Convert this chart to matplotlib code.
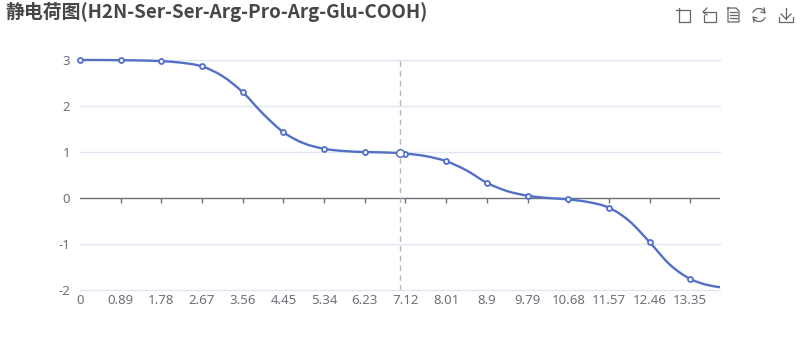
import matplotlib
matplotlib.use("Agg")
import matplotlib.pyplot as plt
import numpy as np
from matplotlib.lines import Line2D
from matplotlib.patches import Arc, PathPatch
from matplotlib.path import Path

plt.rcParams['font.family'] = ['Noto Sans', 'Noto Sans CJK SC', 'DejaVu Sans']

title = "静电荷图(H2N-Ser-Ser-Arg-Pro-Arg-Glu-COOH)"

# ph values at the labelled ticks, and charge
tick_ph = [0, 0.89, 1.78, 2.67, 3.56, 4.45, 5.34, 6.23, 7.12, 8.01, 8.9, 9.79, 10.68, 11.57, 12.46, 13.35]
tick_charge = [3.0, 2.995, 2.975, 2.86, 2.3, 1.43, 1.07, 1.0, 0.965, 0.8, 0.33, 0.05, -0.03, -0.21, -0.96, -1.76]

# curve read at the ticks and half way between them
curve_ph = [0, 0.445, 0.89, 1.335, 1.78, 2.225, 2.67, 3.115, 3.56, 4.005, 4.45, 4.895, 5.34, 5.785,
            6.23, 6.675, 7.12, 7.565, 8.01, 8.455, 8.9, 9.345, 9.79, 10.235, 10.68, 11.125, 11.57,
            12.015, 12.46, 12.905, 13.35, 13.7, 14.0]
curve_charge = [3.0, 3.0, 2.995, 2.99, 2.975, 2.94, 2.86, 2.65, 2.3, 1.83, 1.43, 1.19, 1.07, 1.02,
                1.0, 0.99, 0.965, 0.91, 0.8, 0.6, 0.33, 0.15, 0.05, 0.0, -0.03, -0.09, -0.21,
                -0.5, -0.96, -1.45, -1.76, -1.885, -1.94]

hover_ph = 7.01
hover_charge = 0.97

y_ticks = [-2, -1, 0, 1, 2, 3]
y_labels = ["-2", "-1", "0", "1", "2", "3"]

blue = "#5470c6"
grid = "#e0e6f1"
axis = "#6e7079"

fig = plt.figure(figsize=(8, 3.6), dpi=100)
ax = fig.add_axes([80 / 800, 1 - 290 / 360, 640 / 800, 230 / 360])
ax.set_xlim(0, 14)
ax.set_ylim(-2, 3)
ax.set_yticks(y_ticks)
ax.set_yticklabels(y_labels)
ax.set_xticks(tick_ph)
ax.set_xticklabels([str(v) for v in tick_ph])
ax.tick_params(axis='y', length=0, labelsize=9.5, labelcolor=axis, pad=7)
ax.tick_params(axis='x', length=0, labelsize=9.5, labelcolor=axis, pad=3)
for s in ax.spines.values():
    s.set_visible(False)
for y in y_ticks:
    if y != 0:
        ax.axhline(y, color=grid, lw=1, zorder=1, clip_on=False)

# x axis sits on zero, labels stay at the bottom
ax.axhline(0, color=axis, lw=1, zorder=2)
for v in tick_ph[1:]:
    ax.plot([v, v], [0, -0.11], color=axis, lw=1, zorder=2, solid_capstyle='butt')

ax.axvline(hover_ph, color="#b4b8c6", lw=1, ls=(0, (4, 3)), zorder=2)

# smooth line through the read points, as bezier segments
xs = np.array(curve_ph)
ys = np.array(curve_charge)
slope = np.gradient(ys, xs)
verts = [(xs[0], ys[0])]
codes = [Path.MOVETO]
for i in range(len(xs) - 1):
    d = (xs[i + 1] - xs[i]) / 3
    verts += [(xs[i] + d, ys[i] + slope[i] * d), (xs[i + 1] - d, ys[i + 1] - slope[i + 1] * d), (xs[i + 1], ys[i + 1])]
    codes += [Path.CURVE4] * 3
ax.add_patch(PathPatch(Path(verts, codes), fc='none', ec=blue, lw=1.7, zorder=3, clip_on=False))

ax.plot(tick_ph, tick_charge, ls='none', marker='o', ms=3.6, mfc='white', mec=blue, mew=1.3, zorder=4, clip_on=False)
ax.plot([hover_ph], [hover_charge], ls='none', marker='o', ms=5.5, mfc='white', mec=blue, mew=1.1, zorder=5)

fig.text(5 / 800, 1 - 12 / 360, title, fontsize=13.6, fontweight='bold', color="#464646", va='center', ha='left',
         family=['Noto Sans CJK SC', 'DejaVu Sans'])

# toolbox icons, in pixel units over the whole figure
over = fig.add_axes([0, 0, 1, 1])
over.set_xlim(0, 800)
over.set_ylim(360, 0)
over.axis('off')
over.patch.set_alpha(0)
ic = "#666666"
def seg(*pts):
    over.add_line(Line2D([p[0] for p in pts], [p[1] for p in pts], color=ic, lw=0.9))

seg((680, 10), (690, 10), (690, 22), (679, 22), (679, 8))
seg((676, 10), (680, 10))
seg((707, 8), (703, 12), (707, 15))
seg((704, 12), (716, 12), (716, 22), (704, 22), (704, 15))
seg((728, 8), (736, 8), (739, 11), (739, 22), (728, 22), (728, 8))
seg((730, 12), (737, 12))
seg((730, 15), (737, 15))
seg((730, 18), (737, 18))
over.add_patch(Arc((759, 15), 13, 13, theta1=20, theta2=150, color=ic, lw=0.9))
over.add_patch(Arc((759, 15), 13, 13, theta1=200, theta2=330, color=ic, lw=0.9))
seg((764, 8), (765, 13), (761, 12))
seg((754, 22), (753, 17), (757, 18))
seg((786, 8), (786, 19))
seg((781, 14), (786, 19), (791, 14))
seg((779, 17), (779, 22), (793, 22), (793, 17))

fig.savefig("out.png", dpi=100)
